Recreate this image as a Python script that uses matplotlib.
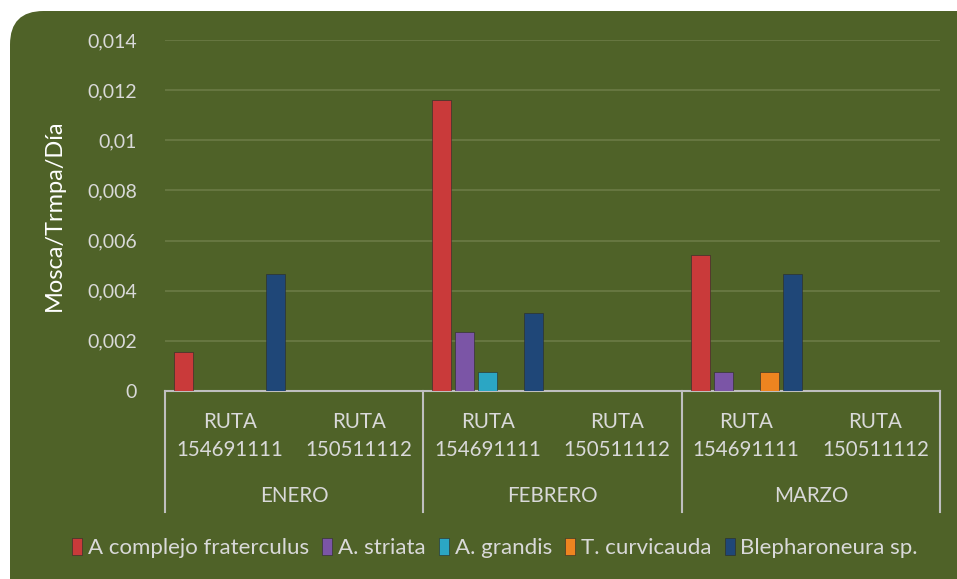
import matplotlib
matplotlib.use("Agg")
import matplotlib.pyplot as plt
import matplotlib.transforms as mtransforms
from matplotlib.patches import FancyBboxPatch, Patch
import numpy as np

# data
months = ["ENERO", "FEBRERO", "MARZO"]
rutas = ["RUTA\n154691111", "RUTA\n150511112"]
series = ["A complejo fraterculus", "A. striata", "A. grandis", "T. curvicauda", "Blepharoneura sp."]
colors = ["#C93A3A", "#7B55A6", "#2BA6C4", "#EE8420", "#1F4778"]
ytick_labels = ["0", "0,002", "0,004", "0,006", "0,008", "0,01", "0,012", "0,014"]
# one value per category: Enero R1, Enero R2, Feb R1, Feb R2, Mar R1, Mar R2
fraterculus = [0.00155, 0, 0.0116, 0, 0.00543, 0]
striata = [0, 0, 0.00235, 0, 0.00076, 0]
grandis = [0, 0, 0.00076, 0, 0, 0]
curvicauda = [0, 0, 0, 0, 0.00076, 0]
blepharoneura = [0.00467, 0, 0.0031, 0, 0.00467, 0]
values = [fraterculus, striata, grandis, curvicauda, blepharoneura]

bg = "#4F6228"
txt = "#D9D9D9"
plt.rcParams['font.family'] = ['Lato', 'DejaVu Sans']

fig = plt.figure(figsize=(9.57, 5.79), dpi=100)
fig.patch.set_facecolor("white")
# rounded background box (only the top-left corner is visible in the picture)
box = FancyBboxPatch((10 / 957, -0.2), 1.2, 1.2 - 11 / 579, boxstyle="round,pad=0,rounding_size=0.035",
                     transform=fig.transFigure, facecolor=bg, edgecolor="none", zorder=0,
                     mutation_aspect=957 / 579)
fig.patches.append(box)

ax = fig.add_axes([165 / 957, 1 - 391 / 579, 775 / 957, 351 / 579])
ax.set_facecolor("none")
ax.set_zorder(2)

x = np.arange(len(fraterculus))
w = 0.147
step = 0.178
for i, (vals, c) in enumerate(zip(values, colors)):
    ax.bar(x + (i - 2) * step, vals, width=w, color=c, edgecolor="#2a2a2a", linewidth=0.4, zorder=3)

ax.set_xlim(-0.5, 5.5)
ax.set_ylim(0, 0.014)
ax.set_yticks(np.linspace(0, 0.014, len(ytick_labels)))
ax.set_yticklabels(ytick_labels)
ax.tick_params(axis="y", length=0, pad=20, labelsize=14, labelcolor=txt)
ax.set_xticks([])
ax.grid(axis="y", color="#6B7B45", linewidth=1.2, zorder=1)
for s in ["left", "right", "top"]:
    ax.spines[s].set_visible(False)
ax.spines["bottom"].set_color("#BFBFBF")
ax.spines["bottom"].set_linewidth(1.5)
ax.set_ylabel("Mosca/Trmpa/Día", color="white", fontsize=17, labelpad=16)

trans = mtransforms.blended_transform_factory(ax.transData, ax.transAxes)
for xv in [-0.5, 1.5, 3.5, 5.5]:
    ax.plot([xv, xv], [0, -0.345], color="#BFBFBF", linewidth=1.5, transform=trans, clip_on=False)
for i, lab in enumerate(rutas * 3):
    ax.text(i, -0.128, lab, transform=trans, ha="center", va="center", color=txt,
            fontsize=14.8, linespacing=1.5)
for j, m in enumerate(months):
    ax.text(2 * j + 0.5, -0.299, m, transform=trans, ha="center", va="center", color=txt, fontsize=14.8)

handles = [Patch(facecolor=c, edgecolor="#2a2a2a", linewidth=0.4) for c in colors]
leg = fig.legend(handles, series, loc="center", bbox_to_anchor=(495 / 957, 1 - 548 / 579), ncol=5,
                 frameon=False, fontsize=16, handlelength=0.45, handleheight=0.85,
                 handletextpad=0.25, columnspacing=0.6)
for t in leg.get_texts():
    t.set_color(txt)

fig.savefig("out.png", dpi=100, facecolor="white")
